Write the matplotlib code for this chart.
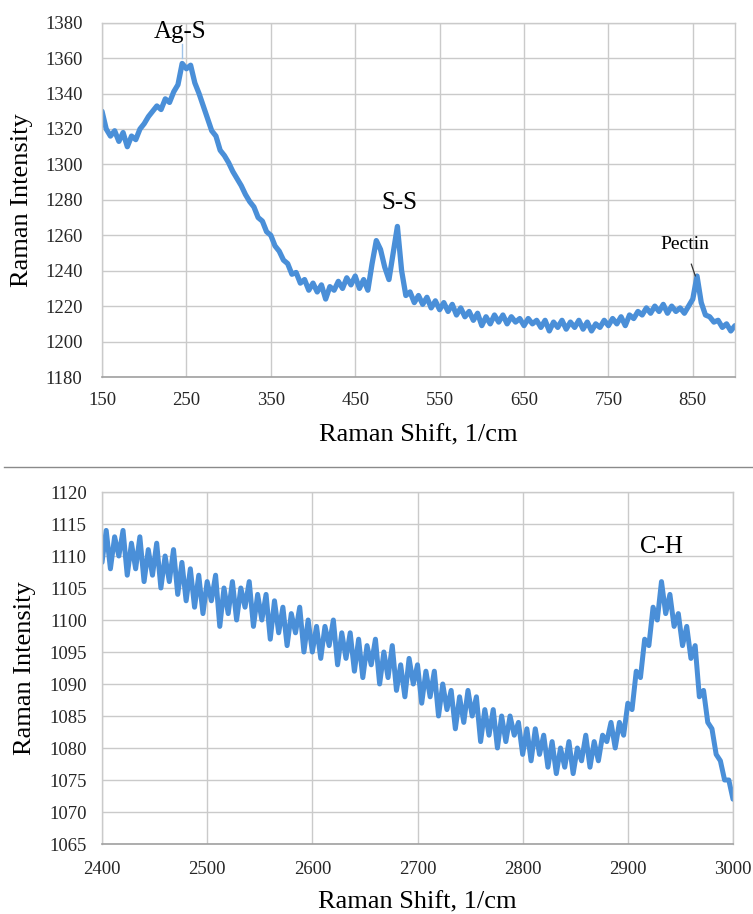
import numpy as np
import matplotlib
matplotlib.use("Agg")
import matplotlib.pyplot as plt
from matplotlib.lines import Line2D

# ---- Low-wavenumber Raman spectrum (150-900 1/cm, 5 1/cm step) ----
low_shift_start, low_shift_stop, low_shift_step = 150, 900, 5
low_intensity = [
    1330, 1320, 1316, 1319, 1313, 1318, 1310, 1316, 1314, 1320,
    1323, 1327, 1330, 1333, 1331, 1337, 1335, 1341, 1345, 1357,
    1354, 1356, 1346, 1340, 1333, 1326, 1319, 1316, 1308, 1305,
    1301, 1296, 1292, 1288, 1283, 1279, 1276, 1270, 1268, 1262,
    1260, 1254, 1251, 1246, 1244, 1238, 1239, 1233, 1235, 1229,
    1233, 1228, 1232, 1224, 1231, 1229, 1234, 1230, 1236, 1232,
    1237, 1230, 1235, 1229, 1244, 1257, 1252, 1242, 1235, 1250,
    1265, 1240, 1226, 1228, 1222, 1226, 1221, 1225, 1219, 1223,
    1218, 1222, 1217, 1221, 1215, 1219, 1214, 1217, 1212, 1216,
    1209, 1214, 1210, 1215, 1211, 1215, 1210, 1214, 1211, 1213,
    1209, 1213, 1210, 1212, 1208, 1212, 1206, 1211, 1208, 1212,
    1207, 1211, 1208, 1212, 1207, 1211, 1206, 1210, 1208, 1212,
    1209, 1213, 1210, 1214, 1209, 1215, 1213, 1217, 1215, 1219,
    1216, 1220, 1217, 1221, 1216, 1220, 1217, 1219, 1216, 1220,
    1224, 1237, 1222, 1215, 1214, 1211, 1212, 1208, 1210, 1206,
    1209,
]
low_xticks = [150, 250, 350, 450, 550, 650, 750, 850]
low_yticks = [1180, 1200, 1220, 1240, 1260, 1280, 1300, 1320, 1340, 1360, 1380]

# ---- High-wavenumber Raman spectrum (2400-3000 1/cm, 4 1/cm step) ----
high_shift_start, high_shift_stop, high_shift_step = 2400, 3000, 4
high_intensity = [
    1109, 1114, 1108, 1113, 1110, 1114, 1107, 1112, 1108, 1113,
    1106, 1111, 1107, 1112, 1105, 1110, 1106, 1111, 1104, 1109,
    1103, 1108, 1102, 1107, 1101, 1106, 1103, 1107, 1099, 1105,
    1101, 1106, 1100, 1105, 1102, 1106, 1099, 1104, 1100, 1104,
    1097, 1103, 1098, 1102, 1096, 1101, 1098, 1102, 1095, 1100,
    1095, 1099, 1094, 1099, 1096, 1100, 1093, 1098, 1094, 1098,
    1092, 1097, 1091, 1096, 1093, 1097, 1090, 1095, 1091, 1096,
    1089, 1093, 1088, 1094, 1090, 1093, 1087, 1092, 1088, 1092,
    1085, 1090, 1086, 1089, 1083, 1088, 1084, 1089, 1085, 1088,
    1081, 1086, 1082, 1086, 1080, 1085, 1081, 1085, 1082, 1084,
    1079, 1083, 1078, 1083, 1079, 1082, 1077, 1081, 1076, 1080,
    1077, 1081, 1076, 1080, 1078, 1082, 1077, 1081, 1078, 1082,
    1081, 1084, 1080, 1084, 1082, 1087, 1086, 1092, 1091, 1097,
    1096, 1102, 1100, 1106, 1101, 1104, 1099, 1101, 1096, 1099,
    1094, 1096, 1088, 1089, 1084, 1083, 1079, 1078, 1075, 1075,
    1072,
]
high_xticks = [2400, 2500, 2600, 2700, 2800, 2900, 3000]
high_yticks = [1065, 1070, 1075, 1080, 1085, 1090, 1095, 1100, 1105, 1110, 1115, 1120]

low_shift = np.arange(low_shift_start, low_shift_stop + 1, low_shift_step)
high_shift = np.arange(high_shift_start, high_shift_stop + 1, high_shift_step)
assert len(low_shift) == len(low_intensity)
assert len(high_shift) == len(high_intensity)

plt.rcParams["font.family"] = ["Liberation Serif", "DejaVu Serif"]

LINE_BLUE = "#4a8fd8"
GRID = "#cacaca"
W, H = 753, 914

fig = plt.figure(figsize=(W / 100, H / 100), dpi=100)
fig.patch.set_facecolor("white")


def px_axes(left, top, right, bottom):
    return fig.add_axes([left / W, 1 - bottom / H, (right - left) / W, (bottom - top) / H])


def style(ax, xlim, ylim, xticks, yticks, xpad, ypad):
    ax.set_xlim(*xlim)
    ax.set_ylim(*ylim)
    ax.set_xticks(xticks)
    ax.set_yticks(yticks)
    ax.grid(True, color=GRID, linewidth=1.0)
    ax.set_axisbelow(True)
    for side in ("top", "right", "left"):
        ax.spines[side].set_color(GRID)
        ax.spines[side].set_linewidth(1.0)
    ax.spines["bottom"].set_color("#a0a0a0")
    ax.spines["bottom"].set_linewidth(1.2)
    ax.tick_params(axis="both", length=0, labelsize=13.5, labelcolor="#262626")
    ax.tick_params(axis="x", pad=xpad)
    ax.tick_params(axis="y", pad=ypad)


# Upper panel
ax1 = px_axes(102, 22.7, 735, 377)
ax1.plot(low_shift, low_intensity, color=LINE_BLUE, linewidth=3.8,
         solid_joinstyle="round", solid_capstyle="round")
style(ax1, (150, 900), (1180, 1380), low_xticks, low_yticks, xpad=11, ypad=14)
ax1.set_xlabel("Raman Shift, 1/cm", fontsize=19)
ax1.set_ylabel("Raman Intensity", fontsize=19)
ax1.xaxis.set_label_coords(0.5, -0.164)
ax1.yaxis.set_label_coords(-0.126, 0.5)
ax1.xaxis.label.set_va("center")
ax1.yaxis.label.set_va("center")

ax1.text(242, 1374.7, "Ag-S", fontsize=18, ha="center", va="center")
ax1.plot([245, 245], [1368, 1360], color="#9fc3e8", linewidth=1.0)
ax1.text(502, 1278.4, "S-S", fontsize=18, ha="center", va="center")
ax1.annotate("Pectin", xy=(853, 1237), xytext=(840.5, 1254.6),
             fontsize=14, ha="center", va="center",
             arrowprops=dict(arrowstyle="-", color="#333333", linewidth=0.9,
                             shrinkA=6, shrinkB=0))

# Lower panel
ax2 = px_axes(102, 492, 733, 844)
ax2.plot(high_shift, high_intensity, color=LINE_BLUE, linewidth=3.6,
         solid_joinstyle="round", solid_capstyle="round")
style(ax2, (2400, 3000), (1065, 1120), high_xticks, high_yticks, xpad=12, ypad=11)
ax2.set_xlabel("Raman Shift, 1/cm", fontsize=19)
ax2.set_ylabel("Raman Intensity", fontsize=19)
ax2.xaxis.set_label_coords(0.5, -0.165)
ax2.yaxis.set_label_coords(-0.122, 0.5)
ax2.xaxis.label.set_va("center")
ax2.yaxis.label.set_va("center")
ax2.text(2932, 1111.4, "C-H", fontsize=18, ha="center", va="center")

# Divider between the two panels
fig.add_artist(Line2D([4 / W, 1.0], [1 - 467 / H, 1 - 467 / H],
                      transform=fig.transFigure, color="#8a8a8a", linewidth=1.0))

fig.savefig("out.png", dpi=100, facecolor="white")
